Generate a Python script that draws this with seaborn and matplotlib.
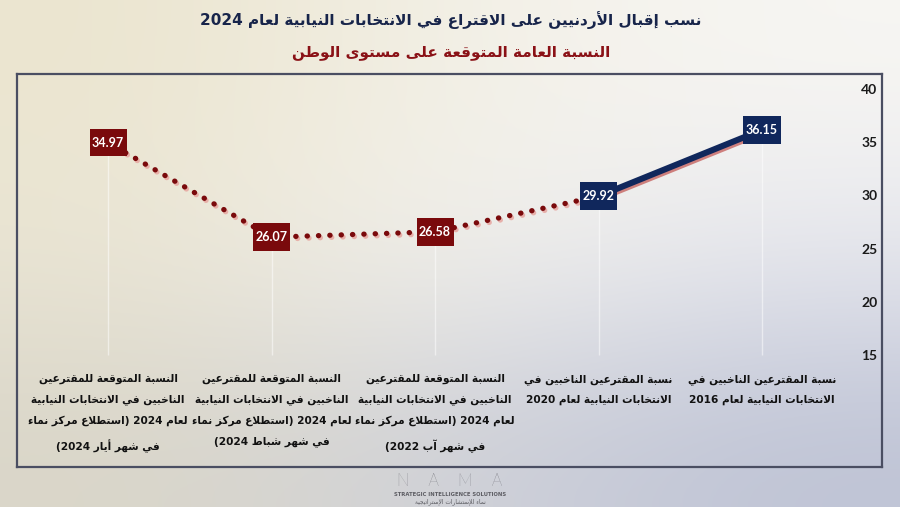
import re
import numpy as np
import pandas as pd
import matplotlib
matplotlib.use("Agg")
import matplotlib.pyplot as plt
import matplotlib.patheffects as pe
import seaborn as sns

# --- chart data (first category is drawn on the right, RTL) ---
categories = [
    "نسبة المقترعين الناخبين في\nالانتخابات النيابية لعام 2016",
    "نسبة المقترعين الناخبين في\nالانتخابات النيابية لعام 2020",
    "النسبة المتوقعة للمقترعين\nالناخبين في الانتخابات النيابية\nلعام 2024 (استطلاع مركز نماء\nفي شهر آب 2022)",
    "النسبة المتوقعة للمقترعين\nالناخبين في الانتخابات النيابية\nلعام 2024 (استطلاع مركز نماء\nفي شهر شباط 2024)",
    "النسبة المتوقعة للمقترعين\nالناخبين في الانتخابات النيابية\nلعام 2024 (استطلاع مركز نماء\nفي شهر أيار 2024)",
]
values = [36.15, 29.92, 26.58, 26.07, 34.97]
kinds = ["actual", "actual", "expected", "expected", "expected"]
y_ticks = [15, 20, 25, 30, 35, 40]

title = "نسب إقبال الأردنيين على الاقتراع في الانتخابات النيابية لعام 2024"
subtitle = "النسبة العامة المتوقعة على مستوى الوطن"
logo_en = "STRATEGIC INTELLIGENCE SOLUTIONS"
logo_ar = "نماء للإستشارات الإستراتيجية"

NAVY = "#10275c"
RED = "#7a0a0c"

# --- minimal arabic shaping (matplotlib has no text shaping / bidi) ---
DUAL = {'ئ': 0xFE89, 'ب': 0xFE8F, 'ت': 0xFE95, 'ث': 0xFE99, 'ج': 0xFE9D, 'ح': 0xFEA1,
        'خ': 0xFEA5, 'س': 0xFEB1, 'ش': 0xFEB5, 'ص': 0xFEB9, 'ض': 0xFEBD, 'ط': 0xFEC1,
        'ظ': 0xFEC5, 'ع': 0xFEC9, 'غ': 0xFECD, 'ف': 0xFED1, 'ق': 0xFED5, 'ك': 0xFED9,
        'ل': 0xFEDD, 'م': 0xFEE1, 'ن': 0xFEE5, 'ه': 0xFEE9, 'ي': 0xFEF1}
RIGHT = {'آ': 0xFE81, 'أ': 0xFE83, 'ؤ': 0xFE85, 'إ': 0xFE87, 'ا': 0xFE8D, 'ة': 0xFE93,
         'د': 0xFEA9, 'ذ': 0xFEAB, 'ر': 0xFEAD, 'ز': 0xFEAF, 'و': 0xFEED, 'ى': 0xFEEF}
LAMALEF = {'آ': 0xFEF5, 'أ': 0xFEF7, 'إ': 0xFEF9, 'ا': 0xFEFB}


def shape_line(text):
    units = []
    i = 0
    while i < len(text):
        c = text[i]
        if c == 'ل' and i + 1 < len(text) and text[i + 1] in LAMALEF:
            units.append(('R', LAMALEF[text[i + 1]], None))
            i += 2
            continue
        if c in DUAL:
            units.append(('D', DUAL[c], c))
        elif c in RIGHT:
            units.append(('R', RIGHT[c], c))
        elif c == 'ء':
            units.append(('U', 0xFE80, c))
        else:
            units.append(('N', None, c))
        i += 1
    out = []
    for k, (t, base, c) in enumerate(units):
        if t in ('N', 'U'):
            out.append(chr(base) if base else c)
            continue
        prev_j = k > 0 and units[k - 1][0] == 'D'
        next_j = t == 'D' and k + 1 < len(units) and units[k + 1][0] in ('D', 'R')
        if t == 'R':
            out.append(chr(base + (1 if prev_j else 0)))
        else:
            off = 3 if (prev_j and next_j) else 1 if prev_j else 2 if next_j else 0
            out.append(chr(base + off))
    s = ''.join(out)[::-1]
    s = re.sub(r'[0-9.]+', lambda m: m.group()[::-1], s)
    return s.translate(str.maketrans('()', ')('))


def ar(text):
    return "\n".join(shape_line(line) for line in text.split("\n"))


df = pd.DataFrame({"pos": range(len(values)), "value": values, "kind": kinds})

sns.set_style("white")
plt.rcParams['font.family'] = ['DejaVu Sans']

fig = plt.figure(figsize=(9, 5.07), dpi=100)

# background gradient (beige top-left -> white -> blue-grey bottom-right)
grad = np.array([
    [[235, 229, 207], [243, 240, 230], [247, 246, 243]],
    [[234, 229, 212], [244, 243, 239], [230, 231, 238]],
    [[218, 214, 200], [208, 210, 218], [190, 195, 213]],
]) / 255.0
bg = fig.add_axes([0, 0, 1, 1], zorder=0)
bg.imshow(grad, aspect="auto", interpolation="bicubic", extent=[0, 1, 0, 1])
bg.axis("off")

ax = fig.add_axes([17 / 900, 1 - 467 / 507, 865 / 900, 393 / 507], zorder=1)
ax.set_facecolor("none")

# faint drop lines
ax.vlines(df["pos"], 15, df["value"], color="white", lw=1, alpha=0.5, zorder=1)

actual = df[df["pos"] <= 1]
expected = df[df["pos"] >= 1]

sns.lineplot(data=expected, x="pos", y="value", ax=ax, color=RED, lw=3.8,
             linestyle=(0, (0.05, 2.1)), dash_capstyle="round", zorder=3,
             path_effects=[pe.SimpleLineShadow(offset=(1.2, -1.5), shadow_color="#e6a29c", alpha=0.8),
                           pe.Normal()])
sns.lineplot(data=actual, x="pos", y="value", ax=ax, color=NAVY, lw=4.4, zorder=3,
             solid_capstyle="butt",
             path_effects=[pe.SimpleLineShadow(offset=(0.5, -1.8), shadow_color="#c0504d", alpha=0.7),
                           pe.Normal()])

# rectangular value boxes (37 x 27 px)
box = [(-1, -0.75), (1, -0.75), (1, 0.75), (-1, 0.75), (-1, -0.75)]
sns.scatterplot(data=df, x="pos", y="value", hue="kind", ax=ax, marker=box, s=710,
                palette={"actual": NAVY, "expected": RED}, linewidth=0, legend=False, zorder=4)
for p, v in zip(df["pos"], df["value"]):
    ax.text(p, v, f"{v:.2f}", ha="center", va="center", color="white",
            fontsize=9, fontweight="bold", family="Lato", zorder=5)

ax.set_xlim(4.557, -0.734)
ax.set_ylim(4.47, 41.41)
ax.set_xticks(df["pos"])
ax.set_xticklabels([ar(c) for c in categories], fontsize=7.6, fontweight="bold",
                   color="#111111", linespacing=2.25, multialignment="center")
ax.tick_params(axis="x", length=0, pad=-67)
ax.yaxis.tick_right()
ax.set_yticks(y_ticks)
ax.set_yticklabels([str(t) for t in y_ticks], fontsize=10, fontweight="bold",
                   family="Lato", color="#1a1a1a")
ax.tick_params(axis="y", length=0, pad=-15)
ax.set_xlabel("")
ax.set_ylabel("")
ax.grid(False)
for s in ax.spines.values():
    s.set_color("#4a4e62")
    s.set_linewidth(1.6)

fig.text(0.501, 1 - 20 / 507, ar(title), ha="center", va="center",
         fontsize=11, fontweight="bold", color="#17244a")
fig.text(0.501, 1 - 52 / 507, ar(subtitle), ha="center", va="center",
         fontsize=11, fontweight="bold", color="#8a1116")

fig.text(0.5, 1 - 481 / 507, "N    A    M    A", ha="center", va="center",
         fontsize=12, color="#606068", family="Lato", fontweight="light")
fig.text(0.5, 1 - 494 / 507, logo_en, ha="center", va="center",
         fontsize=3.8, color="#5c5c62", fontweight="bold")
fig.text(0.5, 1 - 502 / 507, ar(logo_ar), ha="center", va="center",
         fontsize=4.2, color="#5c5c62")

fig.savefig("out.png", dpi=100)
